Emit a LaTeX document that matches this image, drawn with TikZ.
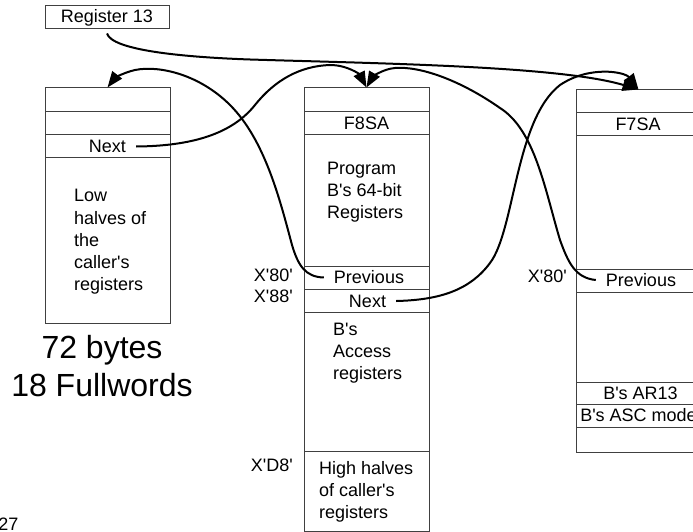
\documentclass[tikz,border=0pt]{standalone}
\usepackage{fontspec}
\setmainfont{Liberation Sans}[Ligatures=TeXOff]
\usetikzlibrary{arrows.meta}

\tikzset{
  frame/.style={draw=black!75, line width=1pt},
  area/.style={frame, inner sep=0pt, minimum width=125pt},
  field/.style={font=\fontsize{18}{22}\selectfont, inner sep=0pt},
  blurb/.style={font=\fontsize{18}{22.3}\selectfont, inner sep=0pt, align=left, anchor=west},
  offset/.style={font=\fontsize{18}{22}\selectfont, inner sep=0pt, anchor=east},
  big/.style={font=\fontsize{32}{38}\selectfont, inner sep=0pt, anchor=base},
  link/.style={line width=2pt, -{Triangle[length=16pt,width=12pt]}},
}

\begin{document}
\begin{tikzpicture}[x=1pt, y=-1pt]
\useasboundingbox (0,0) rectangle (693,532);
\clip (0,0) rectangle (693,532);

% Register 13
\node[frame, field, minimum width=124pt, minimum height=23pt] (r13) at (107,17.5) {Register 13};

% caller's save area (72 bytes)
\node[area, minimum height=235pt] (lsa) at (107.5,205.5) {};
\draw[frame] (45,111.5) -- (170,111.5);
\draw[frame] (45,134.5) -- (170,134.5);
\draw[frame] (45,157.5) -- (170,157.5);
\node[field] (lnext) at (107.5,146.5) {Next};
\node[blurb] (llow) at (74,242) {Low\\halves of\\the\\caller's\\registers};
\node[big] (bytes) at (102,358.3) {72 bytes};
\node[big] (words) at (102,396.7) {18 Fullwords};

% F8SA save area of program B
\node[area, minimum height=443pt] (msa) at (366.5,309.5) {};
\draw[frame] (304,111.5) -- (429,111.5);
\draw[frame] (304,134.5) -- (429,134.5);
\draw[frame] (304,266) -- (429,266);
\draw[frame] (304,289.5) -- (429,289.5);
\draw[frame] (304,312) -- (429,312);
\draw[frame] (304,451.5) -- (429,451.5);
\node[field] (mname) at (366.5,123) {F8SA};
\node[blurb] (mgpr) at (327,192) {Program\\B's 64-bit\\Registers};
\node[field] (mprev) at (369,277.5) {Previous};
\node[field] (mnext) at (367.5,301) {Next};
\node[blurb] (mar) at (333,353) {B's\\Access\\registers};
\node[blurb] (mhigh) at (319,491.7) {High halves\\of caller's\\registers};
\node[offset] (m80) at (293,275) {X'80'};
\node[offset] (m88) at (293,296.7) {X'88'};
\node[offset] (md8) at (293,465) {X'D8'};

% F7SA save area
\node[area, minimum height=362pt] (rsa) at (638.5,271) {};
\draw[frame] (576,113) -- (701,113);
\draw[frame] (576,136) -- (701,136);
\draw[frame] (576,269) -- (701,269);
\draw[frame] (576,292) -- (701,292);
\draw[frame] (576,382) -- (701,382);
\draw[frame] (576,404.5) -- (701,404.5);
\draw[frame] (576,427) -- (701,427);
\node[field] (rname) at (638,124.5) {F7SA};
\node[field] (rprev) at (641,280) {Previous};
\node[field] (rar) at (640.5,393) {B's AR13};
\node[field] (rasc) at (638.5,415.5) {B's ASC mode};
\node[offset] (r80) at (567,276.7) {X'80'};

% page number
\node[field, anchor=base east] (page) at (18.5,530.5) {27};

% chain pointers
\draw[link] ([yshift=-4pt]r13.south) .. controls (112,50) and (180,57) .. (250,59.5)
  .. controls (380,63.5) and (560,66) .. (rsa.north);
\draw[link] ([xshift=10pt]lnext.east) .. controls (200,146) and (235,130) .. (255,105)
  .. controls (275,80) and (300,66) .. (330,65)
  .. controls (348,65) and (360,75) .. (msa.north);
\draw[link] ([xshift=-10pt]mprev.west) .. controls (305,277) and (298,265) .. (292,245)
  .. controls (280,200) and (265,140) .. (230,105)
  .. controls (200,75) and (160,65) .. (135,70)
  .. controls (122,73) and (114,79) .. (lsa.north);
\draw[link] ([xshift=10pt]mnext.east) .. controls (440,300) and (470,290) .. (490,263)
  .. controls (515,230) and (515,120) .. (560,85)
  .. controls (590,65) and (625,72) .. (rsa.north);
\draw[link] ([xshift=-10pt]rprev.west) .. controls (575,278) and (568,262) .. (560,240)
  .. controls (545,190) and (535,130) .. (500,108)
  .. controls (460,80) and (420,66) .. (395,68)
  .. controls (382,69) and (372,78) .. (msa.north);
\end{tikzpicture}
\end{document}
